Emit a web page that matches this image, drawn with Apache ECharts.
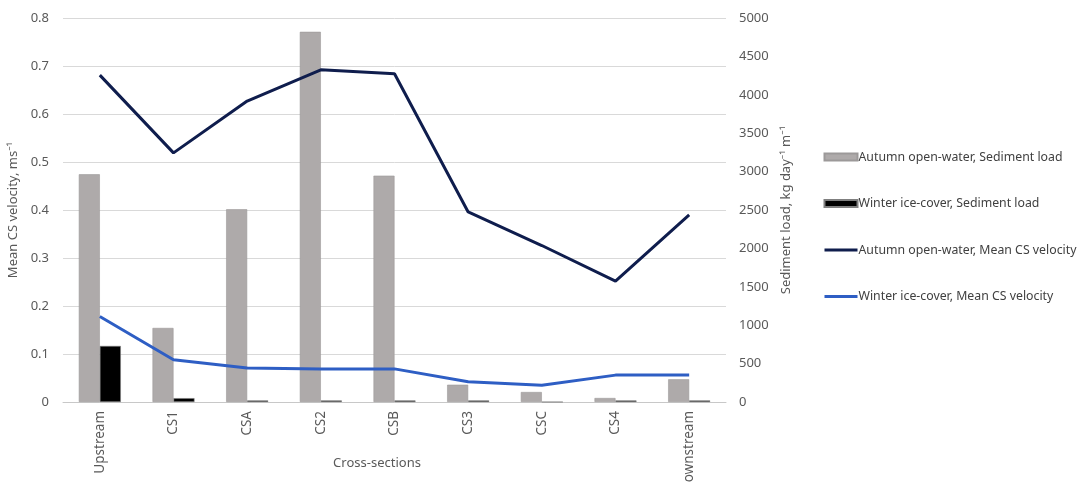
<!DOCTYPE html>
<html>
<head>
<meta charset="utf-8">
<script src="https://cdn.jsdelivr.net/npm/echarts@6/dist/echarts.min.js"></script>
<style>
html,body{margin:0;padding:0;background:#fff;}
#chart{width:1081px;height:483px;}
</style>
</head>
<body>
<div id="chart"></div>
<script>
const categories = ['Upstream','CS1','CSA','CS2','CSB','CS3','CSC','CS4','Downstream'];
const autumnLoad = [2965, 964, 2510, 4820, 2947, 225, 130, 52, 296];
const winterLoad = [730, 50, 20, 20, 20, 20, 0, 20, 20];
const autumnVel = [0.681, 0.519, 0.627, 0.692, 0.684, 0.396, 0.326, 0.252, 0.390];
const winterVel = [0.178, 0.088, 0.071, 0.069, 0.069, 0.042, 0.035, 0.056, 0.056];
const leftTicks = {min: 0, max: 0.8, interval: 0.1};
const rightTicks = {min: 0, max: 5000, interval: 500};
const names = ['Autumn open-water, Sediment load','Winter ice-cover, Sediment load','Autumn open-water, Mean CS velocity','Winter ice-cover, Mean CS velocity'];

const FONT = 'Noto Sans';
const TXT = '#595959';
const NAVY = '#0f1d4d';
const BLUE = '#2e5ec4';
const chart = echarts.init(document.getElementById('chart'), null, {renderer:'canvas'});
chart.setOption({
  animation: false,
  backgroundColor: '#fff',
  textStyle: {fontFamily: FONT},
  title: {
    text: 'Cross-sections', left: 372, top: 452, textAlign: 'center',
    textStyle: {fontFamily: FONT, fontSize: 13, fontWeight: 'normal', color: TXT}
  },
  grid: {left: 63, right: 355, top: 18, bottom: 81, containLabel: false, outerBoundsMode: 'none'},
  legend: {
    orient: 'vertical', left: 818, top: 146, itemWidth: 33, itemHeight: 7, itemGap: 34.5,
    textStyle: {fontFamily: FONT, fontSize: 12.3, color: '#404040', padding: [0, 0, 0, -4]},
    data: [
      {name: names[0], icon: 'rect'},
      {name: names[1], icon: 'rect'},
      {name: names[2], itemStyle: {color: 'rgba(0,0,0,0)', borderWidth: 0}, lineStyle: {width: 3, color: NAVY}},
      {name: names[3], itemStyle: {color: 'rgba(0,0,0,0)', borderWidth: 0}, lineStyle: {width: 3, color: BLUE}}
    ]
  },
  xAxis: {
    type: 'category', data: categories,
    axisLine: {show: true, lineStyle: {color: '#c8c8c8', width: 1}},
    axisTick: {show: false},
    axisLabel: {rotate: 90, margin: 9, fontFamily: FONT, fontSize: 13.5, color: TXT}
  },
  yAxis: [
    {
      type: 'value', min: leftTicks.min, max: leftTicks.max, interval: leftTicks.interval,
      name: 'Mean CS velocity, ms\u207B\u00B9', nameLocation: 'middle', nameGap: 31, nameRotate: 90,
      nameTextStyle: {fontFamily: FONT, fontSize: 13, color: TXT},
      axisLine: {show: false}, axisTick: {show: false},
      axisLabel: {margin: 14, fontFamily: FONT, fontSize: 13, color: TXT,
        formatter: v => v === 0 ? '0' : v.toFixed(1)},
      splitLine: {show: true, lineStyle: {color: '#d9d9d9', width: 1}}
    },
    {
      type: 'value', position: 'right', min: rightTicks.min, max: rightTicks.max, interval: rightTicks.interval,
      name: 'Sediment load, kg day\u207B\u00B9 m\u207B\u00B9', nameLocation: 'middle', nameGap: 50, nameRotate: 90,
      nameTextStyle: {fontFamily: FONT, fontSize: 13, color: TXT},
      axisLine: {show: false}, axisTick: {show: false},
      axisLabel: {margin: 13, fontFamily: FONT, fontSize: 13, color: TXT, formatter: v => String(v)},
      splitLine: {show: false}
    }
  ],
  series: [
    {name: names[0], type: 'bar', yAxisIndex: 1, data: autumnLoad, barWidth: 21, barGap: '0%',
      itemStyle: {color: '#aeaaaa', borderColor: '#9c9999', borderWidth: 0.6}},
    {name: names[1], type: 'bar', yAxisIndex: 1, data: winterLoad, barWidth: 21, barGap: '0%',
      itemStyle: {color: '#000000', borderColor: '#7f7f7f', borderWidth: 0.6}},
    {name: names[2], type: 'line', yAxisIndex: 0, data: autumnVel, symbol: 'none',
      lineStyle: {color: NAVY, width: 3}, itemStyle: {color: NAVY}},
    {name: names[3], type: 'line', yAxisIndex: 0, data: winterVel, symbol: 'none',
      lineStyle: {color: BLUE, width: 3}, itemStyle: {color: BLUE}}
  ]
});
</script>
</body>
</html>
